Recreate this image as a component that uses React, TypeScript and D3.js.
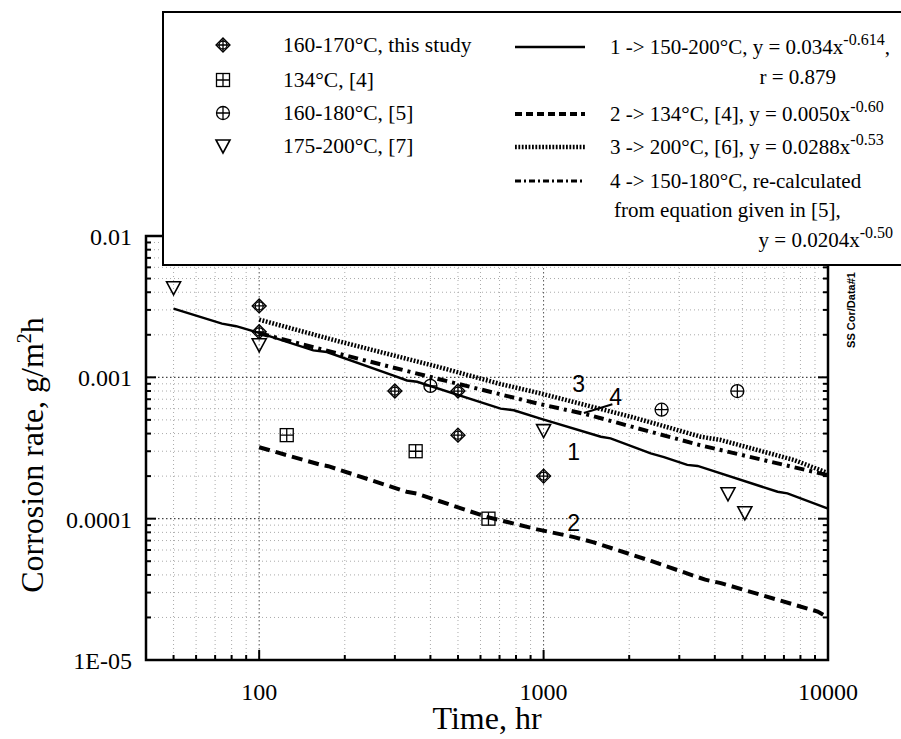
import * as d3 from "d3";
import { useEffect, useRef } from "react";

// axis ticks
const xTicks = [100, 1000, 10000];
const yTicks = [0.01, 0.001, 0.0001, 0.00001];
const yTickLabels = ["0.01", "0.001", "0.0001", "1E-05"];

// measured points [hours, g/m2h]
const thisStudy = [[100, 0.0032], [100, 0.0021], [300, 0.0008], [500, 0.0008], [500, 0.00039], [1000, 0.0002]];
const ref4 = [[125, 0.00039], [355, 0.0003], [640, 0.0001]];
const ref5 = [[400, 0.00087], [2600, 0.00059], [4800, 0.0008]];
const ref7 = [[50, 0.0043], [100, 0.0017], [1000, 0.00042], [4450, 0.00015], [5100, 0.00011]];

// fitted curves
const fit1 = [[50, 0.00306], [74, 0.0024], [83, 0.0023], [100, 0.00206], [155, 0.00155], [173, 0.00151], [297, 0.00103], [331, 0.00095], [359, 0.00093], [706, 0.0006], [786, 0.000585], [975, 0.00051], [1590, 0.00038], [1720, 0.00037], [2380, 0.00029], [2650, 0.000273], [3200, 0.00024], [3480, 0.000236], [6650, 0.000155], [7200, 0.000151], [10000, 0.000118]];
const fit2 = [[100, 0.00032], [165, 0.00024], [175, 0.000235], [330, 0.000155], [360, 0.00015], [630, 0.000103], [950, 0.000084], [1280, 0.000074], [1500, 0.000068], [2400, 0.00005], [3700, 0.000037], [4200, 0.000035], [9200, 0.000022], [10000, 0.00002]];
const fit3 = [[100, 0.00256], [190, 0.0018], [430, 0.00118], [700, 0.0009], [975, 0.00077], [2070, 0.00052], [3570, 0.00038], [4200, 0.00036], [7600, 0.00026], [10000, 0.00021]];
const fit4 = [[100, 0.00205], [190, 0.00147], [430, 0.00097], [960, 0.00065], [1400, 0.00055], [3570, 0.00033], [10000, 0.000203]];

const markerLabels = ["160-170°C, this study", "134°C, [4]", "160-180°C, [5]", "175-200°C, [7]"];

function drawMarker(g, type, cx, cy) {
    const m = g.append("g").attr("fill", "none").attr("stroke", "#000").attr("stroke-width", 1.3);
    if (type === "diamond") {
        m.append("path").attr("d", `M${cx},${cy - 7}L${cx + 7},${cy}L${cx},${cy + 7}L${cx - 7},${cy}Z`);
        m.append("circle").attr("cx", cx).attr("cy", cy).attr("r", 4);
        m.append("path").attr("d", `M${cx - 7},${cy}H${cx + 7}M${cx},${cy - 7}V${cy + 7}`);
    } else if (type === "square") {
        m.append("rect").attr("x", cx - 6.5).attr("y", cy - 6.5).attr("width", 13).attr("height", 13);
        m.append("path").attr("d", `M${cx - 6.5},${cy}H${cx + 6.5}M${cx},${cy - 6.5}V${cy + 6.5}`);
    } else if (type === "circle") {
        m.append("circle").attr("cx", cx).attr("cy", cy).attr("r", 6.5);
        m.append("path").attr("d", `M${cx - 6.5},${cy}H${cx + 6.5}M${cx},${cy - 6.5}V${cy + 6.5}`);
    } else {
        m.attr("stroke-width", 1.6);
        m.append("path").attr("d", `M${cx - 7},${cy - 6}H${cx + 7}L${cx},${cy + 7}Z`);
    }
}

function App() {
    const ref = useRef(null);

    useEffect(() => {
        const svg = d3.select(ref.current);
        svg.selectAll("*").remove();

        const width = 901;
        const height = 739;
        const left = 146, right = 828, top = 236, bottom = 660;
        const serif = "'Liberation Serif', 'Times New Roman', serif";
        const sans = "'Liberation Sans', Arial, sans-serif";

        svg.attr("width", width).attr("height", height);
        svg.append("rect").attr("width", width).attr("height", height).attr("fill", "#fff");

        const x = d3.scaleLog().domain([40, 10000]).range([left, right]);
        const y = d3.scaleLog().domain([0.00001, 0.01]).range([bottom, top]);

        const xAll = x.ticks();
        const yAll = y.ticks();
        const isMajor = v => Math.abs(Math.log10(v) - Math.round(Math.log10(v))) < 1e-6;

        // grid
        const grid = svg.append("g");
        xAll.filter(v => v > 40 && v < 10000).forEach(v => {
            grid.append("line")
                .attr("x1", x(v)).attr("x2", x(v)).attr("y1", top).attr("y2", bottom)
                .attr("stroke", isMajor(v) ? "#555" : "#aaa")
                .attr("stroke-width", 1)
                .attr("stroke-dasharray", isMajor(v) ? "1.5,2.5" : "1,3");
        });
        yAll.filter(v => v > 0.00001 && v < 0.01).forEach(v => {
            grid.append("line")
                .attr("x1", left).attr("x2", right).attr("y1", y(v)).attr("y2", y(v))
                .attr("stroke", isMajor(v) ? "#444" : "#aaa")
                .attr("stroke-width", isMajor(v) ? 1.2 : 1)
                .attr("stroke-dasharray", isMajor(v) ? "1.5,2.5" : "1,3");
        });

        // frame + inward ticks
        const ax = svg.append("g").attr("stroke", "#000").attr("stroke-width", 2);
        xAll.forEach(v => {
            const len = isMajor(v) ? 10 : 5;
            ax.append("line").attr("x1", x(v)).attr("x2", x(v)).attr("y1", bottom).attr("y2", bottom - len);
            ax.append("line").attr("x1", x(v)).attr("x2", x(v)).attr("y1", top).attr("y2", top + len);
        });
        yAll.forEach(v => {
            const len = isMajor(v) ? 10 : 5;
            ax.append("line").attr("x1", left).attr("x2", left + len).attr("y1", y(v)).attr("y2", y(v));
            ax.append("line").attr("x1", right).attr("x2", right - len).attr("y1", y(v)).attr("y2", y(v));
        });
        svg.append("rect")
            .attr("x", left).attr("y", top)
            .attr("width", right - left).attr("height", bottom - top)
            .attr("fill", "none").attr("stroke", "#000").attr("stroke-width", 2.5);

        // tick labels
        svg.append("g").selectAll("text").data(xTicks).enter().append("text")
            .attr("x", d => x(d)).attr("y", 700)
            .attr("text-anchor", "middle")
            .style("font-family", serif).style("font-size", "24px")
            .text(d => d);
        svg.append("g").selectAll("text").data(yTicks).enter().append("text")
            .attr("x", 132).attr("y", d => y(d) + 9)
            .attr("text-anchor", "end")
            .style("font-family", serif).style("font-size", "24px")
            .text((d, i) => yTickLabels[i]);

        // axis titles
        svg.append("text")
            .attr("x", 487).attr("y", 729)
            .attr("text-anchor", "middle")
            .style("font-family", serif).style("font-size", "32px")
            .text("Time, hr");
        const yt = svg.append("text")
            .attr("transform", "translate(43,455) rotate(-90)")
            .attr("text-anchor", "middle")
            .style("font-family", serif).style("font-size", "32px");
        yt.append("tspan").text("Corrosion rate, g/m");
        yt.append("tspan").attr("dy", -12).style("font-size", "20px").text("2");
        yt.append("tspan").attr("dy", 12).text("h");

        // curves
        const line = d3.line().x(d => x(d[0])).y(d => y(d[1]));
        const curves = svg.append("g").attr("fill", "none").attr("stroke", "#000");
        curves.append("path").datum(fit1).attr("d", line).attr("stroke-width", 2.4);
        curves.append("path").datum(fit2).attr("d", line).attr("stroke-width", 4).attr("stroke-dasharray", "11,6");
        curves.append("path").datum(fit3).attr("d", line).attr("stroke-width", 4.5).attr("stroke-dasharray", "1.8,1.6");
        curves.append("path").datum(fit4).attr("d", line).attr("stroke-width", 4).attr("stroke-dasharray", "10,5,3,5");

        // curve numbers
        const lab = svg.append("g").style("font-family", sans).style("font-size", "23px").attr("text-anchor", "middle");
        lab.append("text").attr("x", x(1275)).attr("y", y(0.000259)).text("1");
        lab.append("text").attr("x", x(1275)).attr("y", y(0.0000816)).text("2");
        lab.append("text").attr("x", x(1328)).attr("y", y(0.000783)).text("3");
        lab.append("text").attr("x", x(1793)).attr("y", y(0.000634)).text("4");
        svg.append("line")
            .attr("x1", x(1386)).attr("y1", y(0.00056))
            .attr("x2", x(1745)).attr("y2", y(0.000645))
            .attr("stroke", "#000").attr("stroke-width", 2);

        // points
        const pts = svg.append("g");
        thisStudy.forEach(d => drawMarker(pts, "diamond", x(d[0]), y(d[1])));
        ref4.forEach(d => drawMarker(pts, "square", x(d[0]), y(d[1])));
        ref5.forEach(d => drawMarker(pts, "circle", x(d[0]), y(d[1])));
        ref7.forEach(d => drawMarker(pts, "triangle", x(d[0]), y(d[1])));

        // legend
        const lg = svg.append("g");
        lg.append("rect")
            .attr("x", 163).attr("y", 12).attr("width", 760).attr("height", 253)
            .attr("fill", "#fff").attr("stroke", "#000").attr("stroke-width", 2);

        const rowY = [45, 80, 113, 146];
        ["diamond", "square", "circle", "triangle"].forEach((t, i) => {
            drawMarker(lg, t, 223, rowY[i]);
            lg.append("text")
                .attr("x", 283).attr("y", rowY[i] + 7)
                .style("font-family", serif).style("font-size", "21.5px")
                .text(markerLabels[i]);
        });

        const sw = lg.append("g").attr("stroke", "#000").attr("fill", "none");
        sw.append("line").attr("x1", 515).attr("x2", 585).attr("y1", 47).attr("y2", 47).attr("stroke-width", 2.4);
        sw.append("line").attr("x1", 515).attr("x2", 585).attr("y1", 114).attr("y2", 114).attr("stroke-width", 4).attr("stroke-dasharray", "7,4");
        sw.append("line").attr("x1", 515).attr("x2", 585).attr("y1", 147).attr("y2", 147).attr("stroke-width", 4.5).attr("stroke-dasharray", "1.8,1.6");
        sw.append("line").attr("x1", 515).attr("x2", 585).attr("y1", 181).attr("y2", 181).attr("stroke-width", 3).attr("stroke-dasharray", "6,3,2,3");

        const fitText = (xx, yy, anchor, main, sup, tail) => {
            const t = lg.append("text")
                .attr("x", xx).attr("y", yy)
                .attr("text-anchor", anchor)
                .style("font-family", serif).style("font-size", "21px");
            t.append("tspan").text(main);
            if (sup) {
                t.append("tspan").attr("dy", -9).style("font-size", "16px").text(sup);
                if (tail) t.append("tspan").attr("dy", 9).text(tail);
            }
        };
        fitText(610, 54, "start", "1 -> 150-200°C, y = 0.034x", "-0.614", ",");
        fitText(836, 84, "end", "r = 0.879");
        fitText(610, 121, "start", "2 -> 134°C, [4], y = 0.0050x", "-0.60");
        fitText(610, 154, "start", "3 -> 200°C, [6], y = 0.0288x", "-0.53");
        fitText(610, 188, "start", "4 -> 150-180°C, re-calculated");
        fitText(614, 217, "start", "from equation given in [5],");
        fitText(893, 247, "end", "y = 0.0204x", "-0.50");

        // side tag, below the legend box
        svg.append("text")
            .attr("transform", "translate(855,310) rotate(-90)")
            .attr("text-anchor", "middle")
            .style("font-family", sans).style("font-size", "11px").style("font-weight", "bold")
            .text("SS Cor/Data#1");
    }, []);

    return (
        <div style={{ position: "absolute", left: 0, top: 0 }}>
            <svg ref={ref} />
        </div>
    );
}

export default App;
